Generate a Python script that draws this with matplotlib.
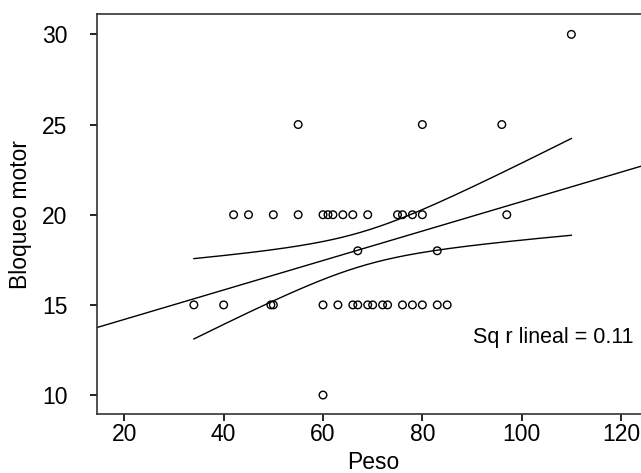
import numpy as np
import matplotlib
matplotlib.use("Agg")
from matplotlib import pyplot as plt

plt.rcParams['font.family'] = ['Liberation Sans', 'DejaVu Sans']

# Peso (x) and Bloqueo motor (y)
peso = [42, 45, 50, 55, 60, 61, 62, 64, 66, 69, 75, 76, 78, 80, 97,
        34, 40, 49.5, 50, 60, 63, 66, 67, 69, 70, 72, 73, 76, 78, 80, 83, 85,
        67, 83,
        55, 80, 96,
        110,
        60]
bloqueo = [20] * 15 + [15] * 17 + [18] * 2 + [25] * 3 + [30] + [10]
r2_label = "Sq r lineal = 0.11"
xticks = [20, 40, 60, 80, 100, 120]
yticks = [10, 15, 20, 25, 30]

x = np.array(peso, dtype=float)
y = np.array(bloqueo, dtype=float)
n = len(x)

# linear fit + confidence band of the mean
b, a = np.polyfit(x, y, 1)
resid = y - (a + b * x)
s = np.sqrt(np.sum(resid ** 2) / (n - 2))
t = 1.6
xm = x.mean()
sxx = np.sum((x - xm) ** 2)
xs = np.linspace(x.min(), x.max(), 200)
se = s * np.sqrt(1.0 / n + (xs - xm) ** 2 / sxx)
fit = a + b * xs

fig = plt.figure(figsize=(6.41, 4.73), dpi=100)
ax_w = 0.86
ax = fig.add_axes([0.1518, 0.124, ax_w, 0.8464])

xl = (14.56, 14.56 + ax_w * 641 / 4.967)
ax.set_xlim(*xl)
ax.set_ylim(8.93, 31.13)

xx = np.array(xl)
ax.plot(xx, a + b * xx, color='black', lw=1)
ax.plot(xs, fit + t * se, color='black', lw=1)
ax.plot(xs, fit - t * se, color='black', lw=1)

ax.scatter(x, y, s=30, facecolors='none', edgecolors='black', linewidths=1, zorder=3)

ax.text(122.5, 13.2, r2_label, ha='right', va='center', fontsize=15.5)

ax.set_xticks(xticks)
ax.set_yticks(yticks)
ax.tick_params(labelsize=16.5, length=5, width=1.2, direction='out')
ax.tick_params(axis='x', pad=1.5)
ax.tick_params(axis='y', pad=16.5)
ax.set_xlabel("Peso", fontsize=16.5, labelpad=3.5)
ax.set_ylabel("Bloqueo motor", fontsize=16.5, labelpad=7)
for sp in ax.spines.values():
    sp.set_linewidth(1.2)
    sp.set_color('#333333')

fig.savefig("out.png", dpi=100)
